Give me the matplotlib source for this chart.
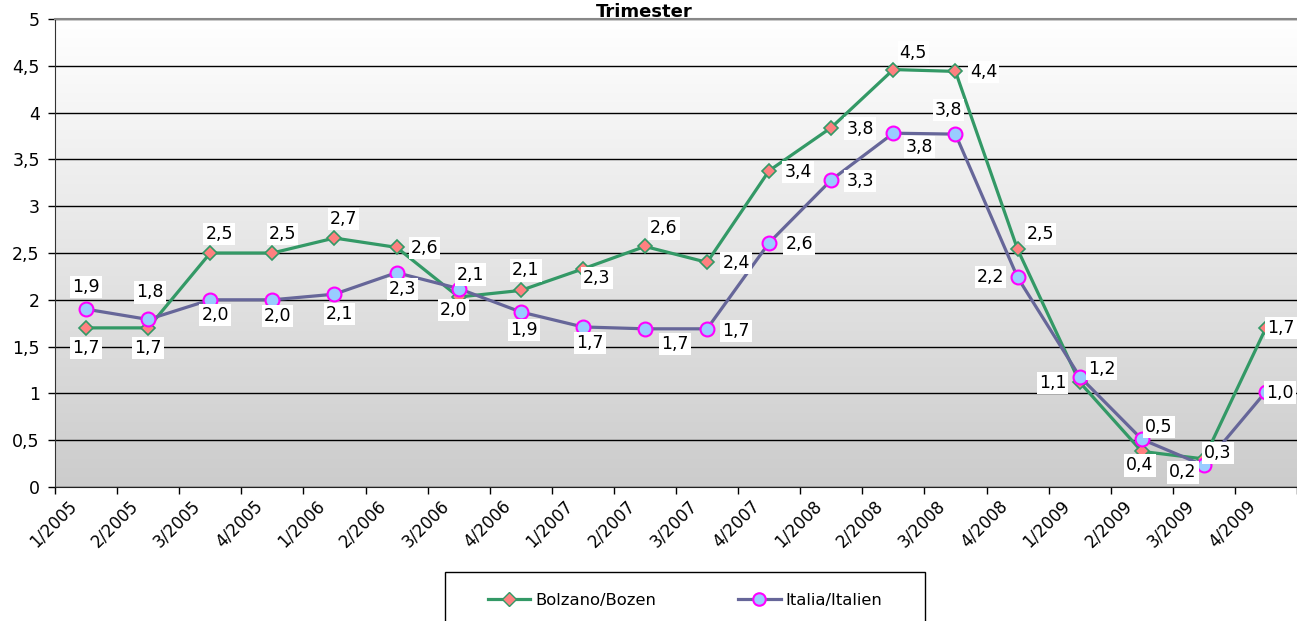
import numpy as np
import matplotlib.pyplot as plt
import matplotlib.transforms as mtransforms
from matplotlib.colors import LinearSegmentedColormap
from matplotlib.patches import Rectangle
from matplotlib.lines import Line2D
from matplotlib.ticker import FuncFormatter

# Quarterly values
quarters = ["1/2005", "2/2005", "3/2005", "4/2005",
            "1/2006", "2/2006", "3/2006", "4/2006",
            "1/2007", "2/2007", "3/2007", "4/2007",
            "1/2008", "2/2008", "3/2008", "4/2008",
            "1/2009", "2/2009", "3/2009", "4/2009"]
bolzano = [1.70, 1.70, 2.50, 2.50, 2.66, 2.56, 2.03, 2.10, 2.33, 2.57,
           2.40, 3.38, 3.84, 4.46, 4.44, 2.54, 1.12, 0.38, 0.30, 1.70]
italia = [1.90, 1.79, 2.00, 2.00, 2.06, 2.29, 2.12, 1.87, 1.71, 1.69,
          1.69, 2.61, 3.28, 3.78, 3.77, 2.24, 1.18, 0.51, 0.23, 1.02]

# data label offsets in pixels (x right, y up)
bz_off = [(0, -20), (0, -20), (9, 19), (10, 19), (9, 19), (28, -1), (-5, -13),
          (5, 20), (14, -9), (19, 18), (29, -1), (29, -1), (29, -1), (20, 17),
          (28, -1), (23, 15), (-27, -1), (-2, -14), (14, 6), (15, 0)]
it_off = [(0, 22), (2, 27), (5, -15), (5, -16), (5, -20), (6, -16), (12, 14),
          (3, -18), (7, -16), (30, -15), (29, -2), (30, -1), (29, -1), (26, -14),
          (-7, 24), (-27, 0), (22, 8), (17, 12), (-21, -7), (14, -1)]

green = "#339966"
purple = "#666699"

fig = plt.figure(figsize=(12.97, 6.21), dpi=100)
ax = fig.add_axes([55 / 1297, 1 - 487 / 621, 1 - 55 / 1297, (487 - 19) / 621])

# gradient background
cmap = LinearSegmentedColormap.from_list("bg", ["#CCCCCC", "#FFFFFF"])
ax.imshow(np.linspace(1, 0, 256).reshape(-1, 1), cmap=cmap, aspect="auto",
          extent=[0, 1, 0, 1], transform=ax.transAxes, zorder=0)

x = np.arange(len(quarters)) + 0.5
ax.plot(x, bolzano, color=green, lw=2.3, marker="D", ms=7.5,
        mfc="#FF8080", mec=green, mew=1.2, zorder=3)
ax.plot(x, italia, color=purple, lw=2.3, marker="o", ms=10,
        mfc="#99CCFF", mec="#FF00FF", mew=1.5, zorder=4)

fmt = lambda v: f"{v:.1f}".replace(".", ",")
for series, offs in ((bolzano, bz_off), (italia, it_off)):
    for xi, v, (dx, dy) in zip(x, series, offs):
        ax.annotate(fmt(v), (xi, v), xytext=(dx, dy), textcoords="offset pixels",
                    ha="center", va="center", fontsize=12.5, zorder=6,
                    annotation_clip=False,
                    bbox=dict(boxstyle="square,pad=0.12", fc="white", ec="none"))

ax.set_xlim(0, 20)
ax.set_ylim(0, 5)
ax.set_yticks(np.arange(0, 5.01, 0.5))
ax.yaxis.set_major_formatter(FuncFormatter(lambda v, p: f"{v:g}".replace(".", ",")))
ax.tick_params(axis="y", length=5, width=1, labelsize=12.5, pad=6)
ax.set_axisbelow(True)
ax.yaxis.grid(True, color="black", lw=1)

ax.set_xticks(range(21))
ax.set_xticklabels([])
ax.tick_params(axis="x", which="major", length=5, width=1)
ax.set_xticks(x, minor=True)
ax.set_xticklabels(quarters, minor=True, rotation=45, ha="right",
                   rotation_mode="anchor", fontsize=12)
ax.tick_params(axis="x", which="minor", length=0, pad=7)
shift = mtransforms.ScaledTranslation(-19 / 100, 0, fig.dpi_scale_trans)
for lbl in ax.get_xticklabels(minor=True):
    lbl.set_transform(lbl.get_transform() + shift)

ax.spines["right"].set_visible(False)
ax.spines["top"].set_color("#888888")
ax.spines["top"].set_linewidth(1.5)
ax.spines["left"].set_color("#333333")
ax.spines["bottom"].set_color("#222222")

fig.text(0.497, 1 - 12 / 621, "Trimester", ha="center", va="center",
         fontsize=13, fontweight="bold")

# legend
handles = [Line2D([], [], color=green, lw=2.3, marker="D", ms=7.5,
                  mfc="#FF8080", mec=green),
           Line2D([], [], color=purple, lw=2.3, marker="o", ms=9,
                  mfc="#99CCFF", mec="#FF00FF", mew=1.5)]
fig.legend(handles, ["Bolzano/Bozen", "Italia/Italien"], loc="center",
           bbox_to_anchor=(685 / 1297, 1 - 600 / 621), ncol=2, frameon=False,
           fontsize=11.8, handlelength=2.6, columnspacing=5.0, handletextpad=0.3)
fig.add_artist(Rectangle((445 / 1297, -0.05), 480 / 1297, 1 - 572 / 621 + 0.05,
                         transform=fig.transFigure, fill=False,
                         edgecolor="black", lw=1))

fig.savefig("out.png", dpi=100)
